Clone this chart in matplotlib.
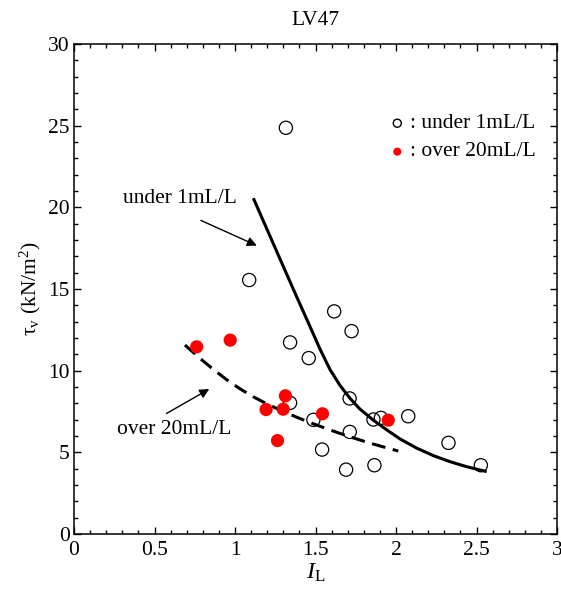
import matplotlib
matplotlib.use("Agg")
import matplotlib.pyplot as plt
from matplotlib.ticker import MultipleLocator

plt.rcParams['font.family'] = ['Liberation Serif', 'DejaVu Serif']
plt.rcParams['mathtext.fontset'] = 'custom'
plt.rcParams['mathtext.rm'] = 'Liberation Serif'
plt.rcParams['mathtext.it'] = 'Liberation Serif:italic'

# data
under_x = [1.316, 1.088, 1.616, 1.724, 1.342, 1.458, 1.712, 1.342, 1.487, 1.860,
           1.906, 2.076, 1.713, 1.541, 2.326, 1.690, 1.866, 2.527]
under_y = [24.87, 15.55, 13.63, 12.42, 11.73, 10.77, 8.30, 8.03, 6.99, 7.01,
           7.11, 7.21, 6.25, 5.17, 5.58, 3.94, 4.21, 4.21]
over_x = [0.762, 0.970, 1.313, 1.193, 1.299, 1.543, 1.952, 1.264]
over_y = [11.46, 11.87, 8.46, 7.62, 7.64, 7.36, 6.97, 5.72]

curve_under_x = [1.114, 1.203, 1.292, 1.381, 1.466, 1.528, 1.590, 1.652, 1.714, 1.776,
                 1.859, 1.942, 2.025, 2.128, 2.232, 2.335, 2.439, 2.563]
curve_under_y = [20.56, 18.56, 16.56, 14.57, 12.70, 11.32, 10.07, 9.10, 8.31, 7.65,
                 6.97, 6.38, 5.82, 5.26, 4.80, 4.43, 4.12, 3.82]
curve_over_x = [0.689, 0.783, 0.865, 0.948, 1.031, 1.114, 1.197, 1.300, 1.383, 1.486,
                1.590, 1.714, 1.839, 2.014]
curve_over_y = [11.57, 10.75, 10.08, 9.45, 8.89, 8.40, 7.97, 7.50, 7.15, 6.75,
                6.37, 5.95, 5.56, 5.08]

fs = 15.5
fig = plt.figure(figsize=(5.61, 5.90), dpi=100)
ax = fig.add_axes([74/561, 1-534/590, (557-74)/561, (534-44)/590])

ax.plot(curve_under_x, curve_under_y, color='black', lw=2.2, solid_capstyle='butt',
        solid_joinstyle='round')
ax.plot(curve_over_x, curve_over_y, color='black', lw=2.2, dashes=(4.5, 2.5))

ax.scatter(under_x, under_y, s=9.5**2, facecolors='none', edgecolors='black', linewidths=0.9, zorder=3)
ax.scatter(over_x, over_y, s=9.5**2, color='#ff0000', edgecolors='none', zorder=4)

# legend (manual)
ax.scatter([2.008], [25.15], s=5.8**2, facecolors='none', edgecolors='black', linewidths=1.0, zorder=3)
ax.scatter([2.008], [23.41], s=5.8**2, color='#ff0000', edgecolors='none', zorder=3)
ax.text(2.09, 25.15, ': under 1mL/L', fontsize=fs, va='center', ha='left')
ax.text(2.09, 23.41, ': over 20mL/L', fontsize=fs, va='center', ha='left')

# annotations
ax.annotate('', xy=(1.151, 17.59), xytext=(0.772, 19.27),
            arrowprops=dict(arrowstyle='-|>', color='black', lw=1.0, mutation_scale=14))
ax.text(0.66, 20.56, 'under 1mL/L', fontsize=fs, va='center', ha='center')
ax.annotate('', xy=(0.855, 8.96), xytext=(0.559, 7.29),
            arrowprops=dict(arrowstyle='-|>', color='black', lw=1.0, mutation_scale=14))
ax.text(0.62, 6.37, 'over 20mL/L', fontsize=fs, va='center', ha='center')

ax.set_xlim(0, 3)
ax.set_ylim(0, 30)
ax.xaxis.set_minor_locator(MultipleLocator(0.1))
ax.yaxis.set_major_locator(MultipleLocator(5))
ax.yaxis.set_minor_locator(MultipleLocator(1))
ax.set_xticks([0, 0.5, 1, 1.5, 2, 2.5, 3])
ax.set_xticklabels(['0', '0.5', '1', '1.5', '2', '2.5', '3'])
ax.tick_params(which='both', direction='in', top=True, right=True, labelsize=fs, width=1.0)
ax.tick_params(which='major', length=5, pad=5)
ax.tick_params(which='minor', length=3)
ax.tick_params(axis='y', which='major', pad=3)
for sp in ax.spines.values():
    sp.set_linewidth(1.1)

ax.set_title('LV47', fontsize=fs, pad=14)
ax.set_xlabel(r'$\mathit{I}_{\mathrm{L}}$', fontsize=fs+2, labelpad=1)
ax.set_ylabel('τ$_{\\mathrm{v}}$ (kN/m$^2$)', fontsize=fs, labelpad=4)

fig.savefig('out.png', dpi=100)
